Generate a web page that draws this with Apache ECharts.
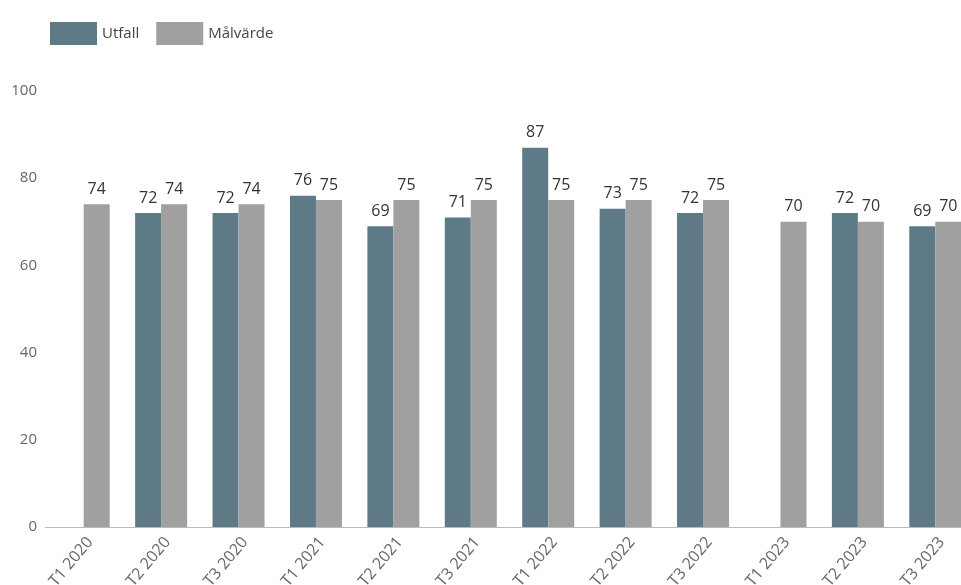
<!DOCTYPE html>
<html>
<head>
<meta charset="utf-8">
<script src="https://cdn.jsdelivr.net/npm/echarts@6/dist/echarts.min.js"></script>
<style>html,body{margin:0;padding:0;background:#fff;overflow:hidden;width:961px;height:585px}#c{width:980px;height:585px}</style>
</head>
<body>
<div id="c"></div>
<script>
const categories = ['T1 2020','T2 2020','T3 2020','T1 2021','T2 2021','T3 2021','T1 2022','T2 2022','T3 2022','T1 2023','T2 2023','T3 2023'];
const utfall = [null,72,72,76,69,71,87,73,72,null,72,69];
const malvarde = [74,74,74,75,75,75,75,75,75,70,70,70];
const yTicks = [0,20,40,60,80,100];

const chart = echarts.init(document.getElementById('c'));
const font = 'Open Sans, Noto Sans, sans-serif';
chart.setOption({
  animation: false,
  textStyle: {fontFamily: font},
  legend: {
    left: 45, top: 17, itemWidth: 47, itemHeight: 23, itemGap: 17,
    icon: 'rect',
    textStyle: {color: '#444', fontSize: 15, fontFamily: font},
    data: ['Utfall','Målvärde']
  },
  grid: {left: 45, width: 929, top: 91, bottom: 58, containLabel: false, outerBoundsMode: 'none'},
  xAxis: {
    type: 'category', data: categories,
    axisLine: {lineStyle: {color: '#bbb'}},
    axisTick: {show: false},
    axisLabel: {rotate: 50, color: '#666', fontSize: 16, margin: 20, interval: 0, fontFamily: font, padding: [0,-10,0,0]}
  },
  yAxis: {
    type: 'value', min: yTicks[0], max: yTicks[yTicks.length-1], interval: 20,
    axisLine: {show: false}, axisTick: {show: false},
    splitLine: {show: false},
    axisLabel: {color: '#666', fontSize: 15, margin: 8, fontFamily: font}
  },
  series: [
    {name: 'Utfall', type: 'bar', data: utfall, barWidth: 26, barGap: '0%',
     itemStyle: {color: '#5f7a87'},
     label: {show: true, position: 'top', color: '#333', fontSize: 16, distance: 7, fontFamily: font}},
    {name: 'Målvärde', type: 'bar', data: malvarde, barWidth: 26, barGap: '0%',
     itemStyle: {color: '#a0a0a0'},
     label: {show: true, position: 'top', color: '#333', fontSize: 16, distance: 7, fontFamily: font}}
  ]
});
</script>
</body>
</html>
